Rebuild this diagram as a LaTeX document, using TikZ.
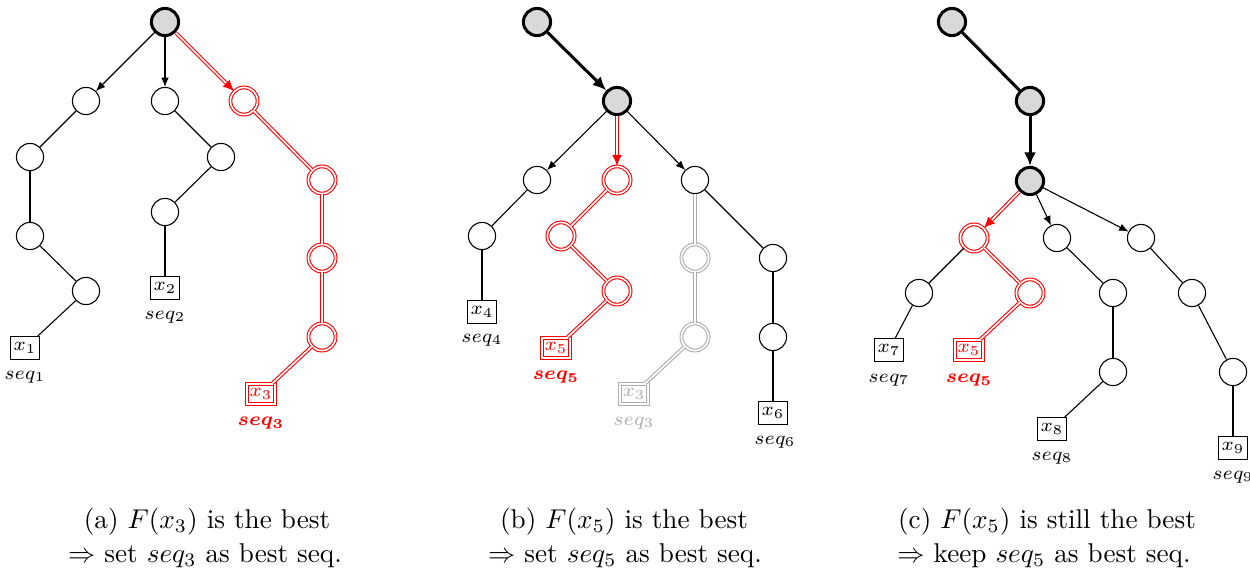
\documentclass[tikz,border=0pt]{standalone}
\usepackage{bm}
\usetikzlibrary{arrows.meta}
\begin{document}
\begin{tikzpicture}[x=0.368pt,y=-0.368pt,
  st/.style={circle, draw, minimum size=10pt, inner sep=0pt, line width=0.4pt},
  cur/.style={st, fill=gray!30, line width=1.1pt},
  rst/.style={st, draw=red, double=white, double distance=0.6pt},
  gst/.style={st, draw=gray!65, double=white, double distance=0.6pt},
  leaf/.style={rectangle, draw, line width=0.4pt, minimum width=11pt, minimum height=8.2pt, inner sep=0.5pt, font=\scriptsize},
  rleaf/.style={leaf, draw=red, text=red, double=white, double distance=0.6pt, minimum width=10.4pt, minimum height=7.4pt},
  gleaf/.style={leaf, draw=gray!65, text=gray!65, double=white, double distance=0.6pt, minimum width=10.4pt, minimum height=7.4pt},
  seqlab/.style={font=\scriptsize, inner sep=0pt},
  captxt/.style={anchor=base, inner sep=0pt},
  ed/.style={line width=0.4pt},
  arr/.style={ed, -{Latex[length=3.4pt,width=2.8pt]}},
  redge/.style={draw=red, double=white, double distance=0.6pt, line width=0.4pt},
  rarr/.style={redge, -{Latex[length=4pt,width=3.6pt]}},
  gedge/.style={draw=gray!65, double=white, double distance=0.6pt, line width=0.4pt},
  tk/.style={line width=1.1pt},
  tka/.style={tk, -{Latex[length=5pt,width=4.4pt]}}
]
\useasboundingbox (0,0) rectangle (1250,571);

% ---------------- panel (a)
\node[cur] (ra) at (165,22) {};
\node[st] (a1) at (86,101) {};
\node[st] (a2) at (165,101) {};
\node[rst] (a3) at (244,101) {};
\node[st] (a11) at (30,157) {};
\node[st] (a12) at (30,236) {};
\node[st] (a13) at (86,291) {};
\node[leaf] (x1) at (25,348) {$x_1$};
\node[seqlab] (s1) at (25,377) {$seq_1$};
\node[st] (a21) at (221,157) {};
\node[st] (a22) at (165,212) {};
\node[leaf] (x2) at (165,288) {$x_2$};
\node[seqlab] (s2) at (165,317) {$seq_2$};
\node[rst] (a31) at (322,180) {};
\node[rst] (a32) at (322,258) {};
\node[rst] (a33) at (322,337) {};
\node[rleaf] (x3) at (261,394) {$x_3$};
\node[seqlab, text=red] (s3) at (261,423) {$\bm{seq_3}$};

\draw[arr] (ra) -- (a1);
\draw[arr] (ra) -- (a2);
\draw[rarr] (ra) -- (a3);
\draw[ed] (a1) -- (a11);
\draw[ed] (a11) -- (a12);
\draw[ed] (a12) -- (a13);
\draw[ed] (a13) -- (x1);
\draw[ed] (a2) -- (a21);
\draw[ed] (a21) -- (a22);
\draw[ed] (a22) -- (x2);
\draw[redge] (a3) -- (a31);
\draw[redge] (a31) -- (a32);
\draw[redge] (a32) -- (a33);
\draw[redge] (a33) -- (x3);

\node[captxt] (ca1) at (207,528) {(a) $F(x_3)$ is the best};
\node[captxt] (ca2) at (205,562) {$\Rightarrow$ set $seq_3$ as best seq.};

% ---------------- panel (b)
\node[cur] (rb) at (537,22) {};
\node[cur] (b1) at (617,101) {};
\node[st] (b2) at (537,180) {};
\node[rst] (b3) at (617,180) {};
\node[st] (b4) at (695,180) {};
\node[st] (b21) at (482,236) {};
\node[leaf] (x4) at (482,312) {$x_4$};
\node[seqlab] (s4) at (482,340) {$seq_4$};
\node[rst] (b31) at (561,236) {};
\node[rst] (b32) at (617,291) {};
\node[rleaf] (x5) at (556,348) {$x_5$};
\node[seqlab, text=red] (s5) at (556,377) {$\bm{seq_5}$};
\node[gst] (b41) at (695,258) {};
\node[gst] (b42) at (695,337) {};
\node[gleaf] (x3g) at (634,394) {$x_3$};
\node[seqlab, text=gray!65] (s3g) at (634,423) {$seq_3$};
\node[st] (b43) at (773,258) {};
\node[st] (b44) at (773,337) {};
\node[leaf] (x6) at (773,413) {$x_6$};
\node[seqlab] (s6) at (775,442) {$seq_6$};

\draw[tka] (rb) -- (b1);
\draw[arr] (b1) -- (b2);
\draw[rarr] (b1) -- (b3);
\draw[arr] (b1) -- (b4);
\draw[ed] (b2) -- (b21);
\draw[ed] (b21) -- (x4);
\draw[redge] (b3) -- (b31);
\draw[redge] (b31) -- (b32);
\draw[redge] (b32) -- (x5);
\draw[gedge] (b4) -- (b41);
\draw[gedge] (b41) -- (b42);
\draw[gedge] (b42) -- (x3g);
\draw[ed] (b4) -- (b43);
\draw[ed] (b43) -- (b44);
\draw[ed] (b44) -- (x6);

\node[captxt] (cb1) at (624,528) {(b) $F(x_5)$ is the best};
\node[captxt] (cb2) at (625,562) {$\Rightarrow$ set $seq_5$ as best seq.};

% ---------------- panel (c)
\node[cur] (rc) at (952,22) {};
\node[cur] (c1) at (1030,101) {};
\node[cur] (c2) at (1030,181) {};
\node[rst] (c3) at (974,238) {};
\node[st] (c4) at (1057,238) {};
\node[st] (c5) at (1141,238) {};
\node[st] (c31) at (919,293) {};
\node[leaf] (x7) at (889,350) {$x_7$};
\node[seqlab] (s7) at (889,380) {$seq_7$};
\node[rst] (c32) at (1030,293) {};
\node[rleaf] (x5c) at (969,350) {$x_5$};
\node[seqlab, text=red] (s5c) at (969,380) {$\bm{seq_5}$};
\node[st] (c41) at (1113,293) {};
\node[st] (c42) at (1113,372) {};
\node[leaf] (x8) at (1052,429) {$x_8$};
\node[seqlab] (s8) at (1052,458) {$seq_8$};
\node[st] (c51) at (1192,293) {};
\node[st] (c52) at (1233,372) {};
\node[leaf] (x9) at (1233,448) {$x_9$};
\node[seqlab] (s9) at (1233,477) {$seq_9$};

\draw[tk] (rc) -- (c1);
\draw[tka] (c1) -- (c2);
\draw[rarr] (c2) -- (c3);
\draw[arr] (c2) -- (c4);
\draw[arr] (c2) -- (c5);
\draw[ed] (c3) -- (c31);
\draw[ed] (c31) -- (x7);
\draw[redge] (c3) -- (c32);
\draw[redge] (c32) -- (x5c);
\draw[ed] (c4) -- (c41);
\draw[ed] (c41) -- (c42);
\draw[ed] (c42) -- (x8);
\draw[ed] (c5) -- (c51);
\draw[ed] (c51) -- (c52);
\draw[ed] (c52) -- (x9);

\node[captxt] (cc1) at (1047,528) {(c) $F(x_5)$ is still the best};
\node[captxt] (cc2) at (1044,562) {$\Rightarrow$ keep $seq_5$ as best seq.};
\end{tikzpicture}
\end{document}
